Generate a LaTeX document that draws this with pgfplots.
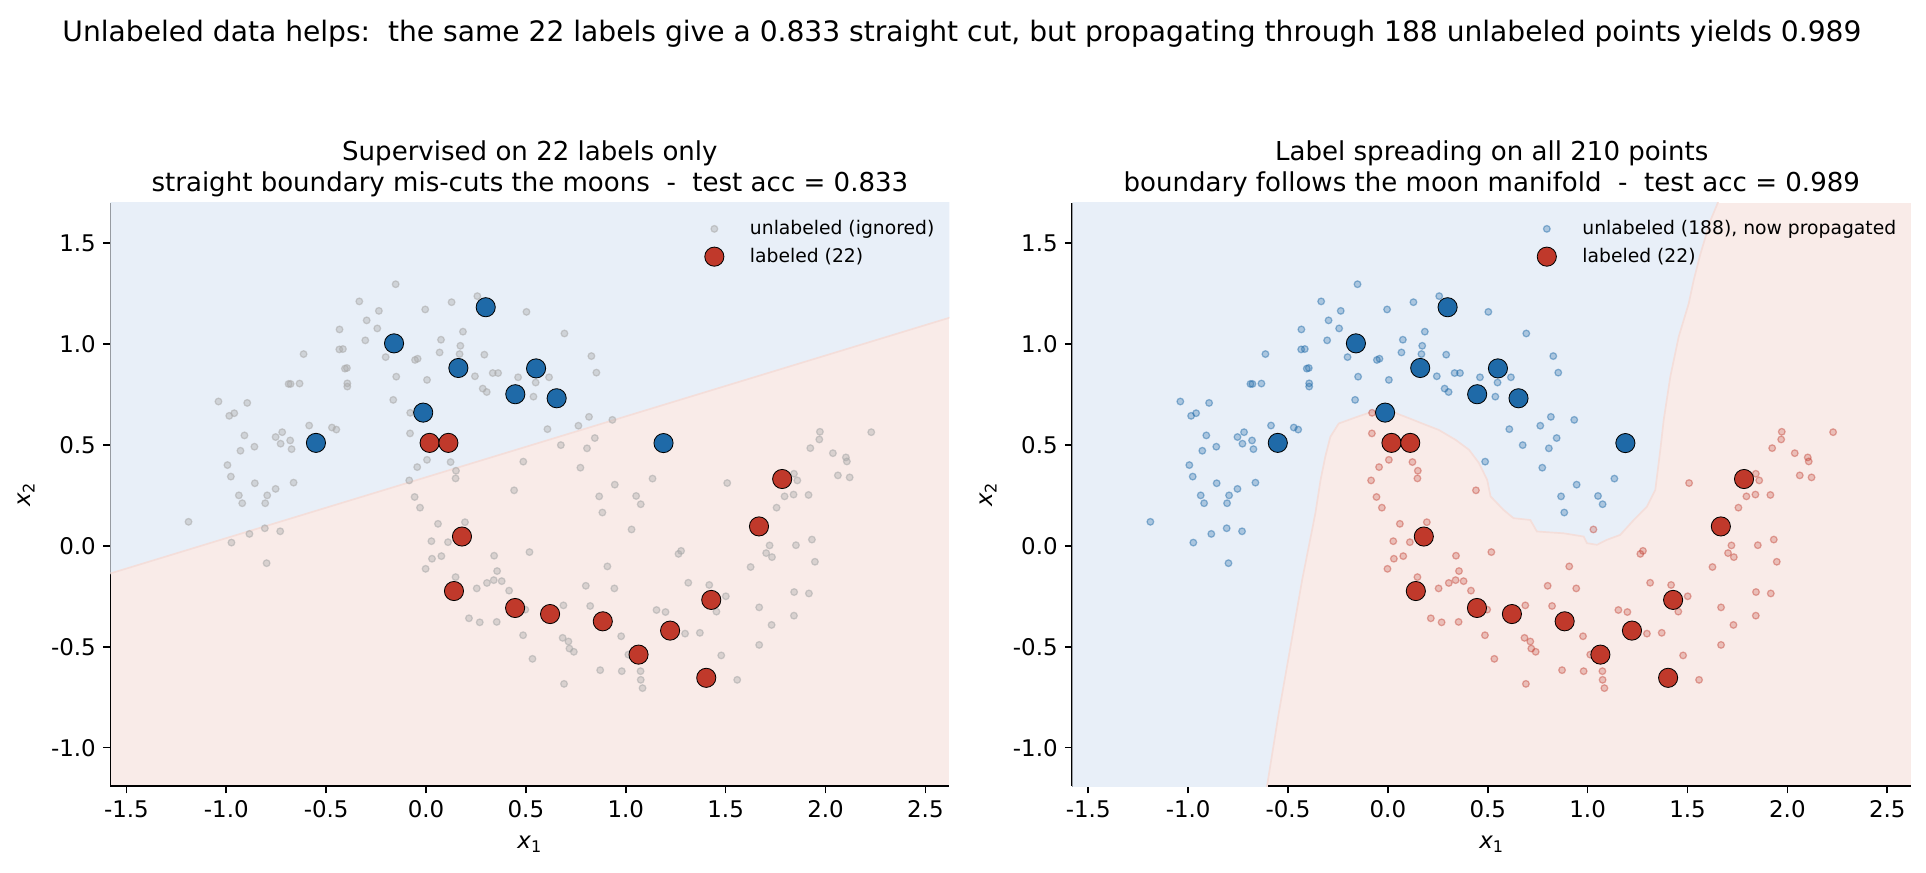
\documentclass[border=0pt]{standalone}
\usepackage{pgfplots}
\pgfplotsset{compat=1.18}
\usepackage{pgfplotstable}
\usepackage{fontspec}
\setmainfont{DejaVu Sans}
\definecolor{cblue}{RGB}{31,106,168}
\definecolor{cred}{RGB}{192,57,43}
\definecolor{bgblue}{RGB}{232,239,248}
\definecolor{bgred}{RGB}{249,235,232}
\definecolor{bline}{RGB}{244,222,218}
\definecolor{ugray}{RGB}{170,170,170}

% unlabeled points, true moon = upper (blue)
\pgfplotstableread{
x y
-0.152 1.296
-0.334 1.211
-0.236 1.164
-0.004 1.171
0.128 1.207
0.257 1.237
0.503 1.159
-0.297 1.117
-0.244 1.077
-0.433 1.072
0.185 1.061
-0.304 1.018
0.075 1.021
-0.434 0.973
-0.416 0.975
0.172 0.991
-0.613 0.950
0.068 0.958
0.168 0.950
0.292 0.947
-0.202 0.935
-0.055 0.921
-0.042 0.927
-0.406 0.878
-0.396 0.881
-0.149 0.838
0.005 0.822
0.245 0.840
0.334 0.856
0.361 0.856
0.461 0.835
-0.688 0.802
-0.678 0.802
-0.633 0.804
-0.394 0.805
-0.394 0.789
0.549 0.809
0.284 0.779
0.304 0.762
0.538 0.739
-0.164 0.723
-1.039 0.715
-0.895 0.708
-0.960 0.657
-0.985 0.644
-0.585 0.596
-0.471 0.586
-0.449 0.576
-0.909 0.547
-0.720 0.563
-0.753 0.539
-0.728 0.506
-0.680 0.522
-0.859 0.491
-0.673 0.479
-0.929 0.471
-0.994 0.400
-0.977 0.343
0.487 0.417
-0.857 0.310
-0.663 0.313
-0.753 0.282
-0.937 0.250
-0.795 0.250
0.693 1.052
0.828 0.940
0.853 0.858
0.616 0.835
0.816 0.639
0.933 0.624
0.763 0.595
0.608 0.578
0.845 0.534
0.675 0.499
0.806 0.483
0.773 0.387
1.134 0.333
0.945 0.303
0.867 0.245
1.052 0.247
-0.920 0.211
-0.805 0.211
-1.189 0.119
-0.884 0.059
-0.807 0.087
-0.730 0.072
-0.974 0.016
-0.798 -0.086
1.075 0.206
0.883 0.165
}\ublue

% unlabeled points, lower moon (red)
\pgfplotstableread{
x y
-0.079 0.659
-0.080 0.557
0.005 0.426
-0.044 0.390
0.123 0.415
0.150 0.372
0.148 0.334
-0.084 0.324
-0.057 0.242
0.441 0.275
1.508 0.311
1.972 0.565
1.969 0.527
1.924 0.484
2.037 0.459
2.102 0.438
2.107 0.418
2.229 0.563
2.062 0.349
2.121 0.339
1.842 0.357
1.859 0.324
1.795 0.245
1.840 0.254
1.915 0.252
-0.030 0.189
0.060 0.109
0.195 0.117
0.027 0.023
0.110 0.018
0.030 -0.064
0.077 -0.051
-0.002 -0.114
0.148 -0.155
0.341 -0.049
0.356 -0.125
0.305 -0.184
0.339 -0.170
0.379 -0.175
0.254 -0.211
0.416 -0.222
0.215 -0.359
0.269 -0.379
0.354 -0.377
0.486 -0.443
0.533 -0.560
0.518 -0.031
0.497 -0.316
1.029 0.081
1.755 0.189
1.720 0.002
1.852 0.003
1.932 0.031
1.703 -0.036
1.732 -0.056
1.947 -0.079
1.625 -0.105
1.277 -0.025
1.264 -0.040
0.908 -0.102
0.800 -0.198
0.943 -0.211
1.313 -0.183
1.418 -0.194
1.501 -0.250
1.454 -0.326
1.843 -0.229
1.917 -0.236
1.668 -0.305
1.842 -0.346
1.730 -0.392
1.668 -0.491
1.478 -0.543
1.558 -0.664
0.688 -0.295
0.822 -0.298
1.154 -0.318
1.199 -0.328
1.297 -0.435
1.371 -0.431
0.977 -0.448
0.684 -0.456
0.713 -0.474
0.718 -0.509
0.740 -0.525
0.872 -0.616
0.980 -0.621
1.074 -0.621
1.075 -0.664
1.084 -0.705
0.691 -0.684
1.013 -0.539
}\ured

\pgfplotstableread{
x y
-0.160 1.003
0.299 1.182
0.162 0.881
0.551 0.879
0.447 0.751
-0.014 0.660
-0.551 0.510
0.654 0.731
1.189 0.509
}\lblue

\pgfplotstableread{
x y
0.018 0.510
0.112 0.510
1.783 0.331
0.180 0.046
0.140 -0.224
0.446 -0.308
1.667 0.096
1.428 -0.268
1.222 -0.420
1.064 -0.539
1.403 -0.654
0.885 -0.374
0.621 -0.338
}\lred

\pgfplotsset{
  moonax/.style={
    scale only axis, width=402.7pt, height=280pt,
    xmin=-1.58, xmax=2.62, ymin=-1.19, ymax=1.70,
    axis lines*=left, axis line style={line width=0.8pt, -},
    tick align=outside, major tick length=3.5pt,
    tick style={line width=0.8pt, black},
    xtick={-1.5,-1,-0.5,0,0.5,1,1.5,2,2.5},
    ytick={-1,-0.5,0,0.5,1,1.5},
    /pgf/number format/assume math mode=true,
    xticklabel style={/pgf/number format/fixed, /pgf/number format/fixed zerofill, /pgf/number format/precision=1},
    yticklabel style={/pgf/number format/fixed, /pgf/number format/fixed zerofill, /pgf/number format/precision=1},
    tick label style={font=\fontsize{11}{13}\selectfont},
    label style={font=\fontsize{11}{13}\selectfont},
    xlabel={{\itshape x}\textsubscript{1}},
    ylabel={{\itshape x}\textsubscript{2}},
    xlabel style={yshift=-2pt},
    ylabel style={yshift=1pt},
    title style={font=\fontsize{12.5}{15}\selectfont, align=center, yshift=-7pt},
    axis background/.style={fill=bgred},
    legend cell align=left,
    legend style={at={(0.995,0.985)}, anchor=north east, draw=none, fill=none,
      font=\fontsize{9}{11}\selectfont, row sep=1pt, column sep=10.5pt},
  },
  unl/.style={only marks, mark=*, mark size=1.6pt},
  lab/.style={only marks, mark=*, mark size=4.6pt, mark options={draw=black, line width=0.8pt}},
}

\begin{document}
\begin{tikzpicture}
\path[use as bounding box] (0,0) rectangle (924.5pt,419pt);
\node[font=\fontsize{13.5}{16}\selectfont] at (461.7pt,403pt) {Unlabeled data helps:\ \ the same 22 labels give a 0.833 straight cut, but propagating through 188 unlabeled points yields 0.989};

\begin{axis}[moonax, at={(53pt,41.7pt)}, anchor=south west,
  title={Supervised on 22 labels only\\straight boundary mis-cuts the moons\ \ -\ \ test acc = 0.833}]
  \addplot[fill=bgblue, draw=bline, line width=0.8pt, forget plot] coordinates {(-1.7,-0.173) (2.7,1.154) (2.7,1.8) (-1.7,1.8)} -- cycle;
  \addplot[unl, mark options={fill=ugray, draw=ugray, fill opacity=0.4, draw opacity=0.55, line width=0.6pt}] table {\ublue};
  \addlegendentry{unlabeled (ignored)}
  \addplot[unl, mark options={fill=ugray, draw=ugray, fill opacity=0.4, draw opacity=0.55, line width=0.6pt}, forget plot] table {\ured};
  \addplot[lab, mark options={fill=cred}] table {\lred};
  \addlegendentry{labeled (22)}
  \addplot[lab, mark options={fill=cblue}, forget plot] table {\lblue};
\end{axis}

\begin{axis}[moonax, at={(514.7pt,41.7pt)}, anchor=south west,
  title={Label spreading on all 210 points\\boundary follows the moon manifold\ \ -\ \ test acc = 0.989}]
  \addplot[fill=bgblue, draw=bline, line width=0.8pt, forget plot] coordinates {
    (-1.7,-1.3) (-0.605,-1.3) (-0.605,-1.19) (-0.546,-0.827) (-0.487,-0.497) (-0.429,-0.168)
    (-0.363,0.161) (-0.337,0.326) (-0.313,0.443) (-0.288,0.540) (-0.246,0.606) (-0.154,0.639)
    (-0.079,0.664) (0.0,0.672) (0.088,0.639) (0.172,0.606) (0.255,0.574) (0.339,0.525)
    (0.406,0.476) (0.456,0.410) (0.497,0.327) (0.514,0.245) (0.579,0.178) (0.629,0.137)
    (0.713,0.128) (0.746,0.071) (0.880,0.062) (0.980,0.046) (0.997,0.013) (1.047,0.005)
    (1.097,0.030) (1.163,0.054) (1.231,0.128) (1.297,0.194) (1.339,0.278) (1.364,0.476)
    (1.381,0.624) (1.414,0.838) (1.456,1.036) (1.506,1.200) (1.531,1.316) (1.565,1.447)
    (1.615,1.612) (1.652,1.70) (1.67,1.8) (-1.7,1.8)} -- cycle;
  \addplot[unl, mark options={fill=cblue, draw=cblue, fill opacity=0.3, draw opacity=0.45, line width=0.6pt}] table {\ublue};
  \addlegendentry{unlabeled (188), now propagated}
  \addplot[unl, mark options={fill=cred, draw=cred, fill opacity=0.25, draw opacity=0.4, line width=0.6pt}, forget plot] table {\ured};
  \addplot[lab, mark options={fill=cred}] table {\lred};
  \addlegendentry{labeled (22)}
  \addplot[lab, mark options={fill=cblue}, forget plot] table {\lblue};
\end{axis}
\end{tikzpicture}
\end{document}
